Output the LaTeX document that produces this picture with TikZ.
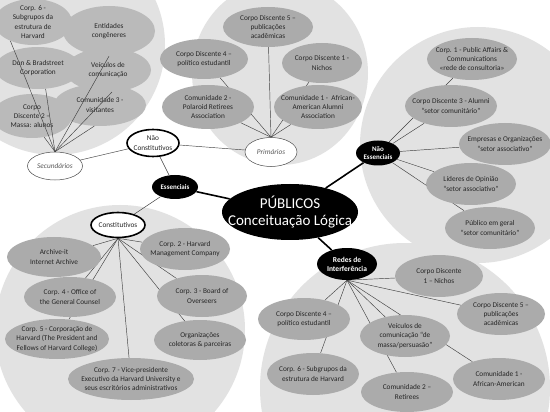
\documentclass[tikz,border=0pt]{standalone}
\usepackage{fontspec}
\setmainfont{Carlito}
\usetikzlibrary{shapes.geometric}
\pgfdeclarelayer{bglayer}
\pgfdeclarelayer{lines}
\pgfdeclarelayer{front}
\pgfsetlayers{bglayer,lines,main,front}
\definecolor{bgfill}{gray}{0.885}
\definecolor{nodegray}{gray}{0.67}
\definecolor{tlgray}{gray}{0.73}
\tikzset{
  txt/.style={align=center, inner sep=0pt, text=black!85, font=\fontsize{7.3}{9.3}\selectfont},
  wtxt/.style={align=center, inner sep=0pt, text=white, font=\fontsize{7}{8.6}\selectfont\bfseries},
  ptxt/.style={align=center, inner sep=0pt, text=white, font=\fontsize{15}{16.5}\selectfont},
  itxt/.style={align=center, inner sep=0pt, text=black!65, font=\fontsize{7.3}{9}\selectfont\itshape},
  gn/.style n args={3}{ellipse, fill=nodegray, inner sep=0pt, minimum width=#1pt, minimum height=#2pt, label={[txt]center:{#3}}},
  tl/.style n args={3}{ellipse, fill=tlgray, inner sep=0pt, minimum width=#1pt, minimum height=#2pt, label={[txt]center:{#3}}},
  bl/.style n args={3}{ellipse, fill=black, inner sep=0pt, minimum width=#1pt, minimum height=#2pt, label={[wtxt]center:{#3}}},
  wb/.style n args={3}{ellipse, fill=white, draw=black, line width=1.6pt, inner sep=0pt, minimum width=#1pt, minimum height=#2pt, label={[txt]center:{#3}}},
  wi/.style n args={3}{ellipse, fill=white, draw=black!70, line width=0.5pt, inner sep=0pt, minimum width=#1pt, minimum height=#2pt, label={[itxt]center:{#3}}},
  conn/.style={draw=black!75, line width=0.45pt},
  thickconn/.style={draw=black, line width=1.6pt},
}
\begin{document}
\begin{tikzpicture}[x=1pt,y=-1pt]
\useasboundingbox (0,0) rectangle (550,412);
\begin{pgfonlayer}{bglayer}
  \fill[white] (0,0) rectangle (550,412);
  \clip (0,0) rectangle (550,412);
  \fill[bgfill] (55,45) circle[radius=110pt];
  \fill[bgfill] (280,73) ellipse[x radius=88pt, y radius=92pt];
  \fill[bgfill] (478,145) circle[radius=118pt];
  \fill[bgfill] (120,330) circle[radius=125pt];
  \fill[bgfill] (405,388) circle[radius=145pt];
\end{pgfonlayer}

% central nodes
\node[ellipse, fill=black, inner sep=0pt, minimum width=136pt, minimum height=56pt,
      label={[ptxt]center:{PÚBLICOS\\Conceituação Lógica}}] (pub) at (290,212) {};
\node[bl={46}{24}{Essenciais}] (ess) at (175,187) {};
\node[bl={44}{25}{Não\\Essenciais}] (nes) at (378,153) {};
\node[ellipse, fill=black, inner sep=0pt, minimum width=60pt, minimum height=32pt,
      label={[wtxt, font=\fontsize{7.5}{9.2}\selectfont\bfseries]center:{Redes de\\Interferência}}] (red) at (347,264) {};
\node[wb={54}{25}{Constitutivos}] (con) at (118,225) {};
\node[wb={52}{27}{Não\\Constitutivos}] (ncon) at (153,143) {};
\node[wi={52}{29}{Primários}] (prim) at (271,152) {};
\node[wi={55}{28}{Secundários}] (sec) at (55,166) {};

% top-left group (Secundários)
\node[tl={78}{46}{Corp. 6 -\\Subgrupos da\\estrutura de\\Harvard}] (tc6) at (33,22) {};
\node[tl={92}{50}{Entidades\\congêneres}] (tent) at (109,31) {};
\node[tl={86}{42}{Dun \& Bradstreet\\Corporation}] (tdun) at (38,68) {};
\node[tl={86}{44}{Veículos de\\comunicação}] (tvei) at (108,70) {};
\node[tl={92}{42}{Comunidade 3 -\\visitantes}] (tcom3) at (100,105) {};
\node[tl={80}{44}{Corpo\\Discente 2 –\\Massa: alunos}] (tcd2) at (32,116) {};

% top-middle group (Primários)
\node[gn={90}{40}{Corpo Discente 5 –\\publicações\\acadêmicas}] (pcd5) at (268,27) {};
\node[gn={88}{40}{Corpo Discente 4 –\\político estudantil}] (pcd4) at (204,59) {};
\node[gn={80}{40}{Corpo Discente 1 -\\Nichos}] (pcd1) at (322,63) {};
\node[gn={92}{44}{Comunidade 2 -\\Polaroid Retirees\\Association}] (pcom2) at (208,107) {};
\node[gn={88}{44}{Comunidade 1 -\ \ African-\\American Alumni\\Association}] (pcom1) at (318,107) {};

% right group (Não Essenciais)
\node[gn={90}{42}{Corp. 1 - Public Affairs \&\\Communications\\«rede de consultoria»}] (nc1) at (472,59) {};
\node[gn={92}{42}{Corpo Discente 3 - Alumni\\“setor comunitário”}] (ncd3) at (451,106) {};
\node[gn={92}{42}{Empresas e Organizações\\“setor associativo”}] (nemp) at (505,144) {};
\node[gn={90}{42}{Líderes de Opinião\\“setor associativo”}] (nlid) at (471,184) {};
\node[gn={90}{42}{Público em geral\\“setor comunitário”}] (npub) at (490,228) {};

% bottom-left group (Constitutivos)
\node[gn={94}{40}{Archive-it\\Internet Archive}] (carch) at (54,257) {};
\node[gn={92}{40}{Corp. 4 - Office of\\the General Counsel}] (cc4) at (70,297) {};
\node[gn={104}{40}{Corp. 5 - Corporação de\\Harvard (The President and\\Fellows of Harvard College)}] (cc5) at (57,339) {};
\node[gn={126}{42}{Corp. 7 - Vice-presidente\\Executivo da Harvard University e\\seus escritórios administrativos}] (cc7) at (131,379) {};
\node[gn={90}{42}{Corp. 2 - Harvard\\Management Company}] (cc2) at (185,249) {};
\node[gn={90}{42}{Corp. 3 - Board of\\Overseers}] (cc3) at (202,296) {};
\node[gn={92}{40}{Organizações\\coletoras \& parceiras}] (corg) at (200,340) {};

% bottom-right group (Redes de Interferência)
\node[gn={88}{42}{Corpo Discente\\1 – Nichos}] (rcd1) at (439,276) {};
\node[gn={92}{42}{Corpo Discente 4 –\\político estudantil}] (rcd4) at (304,319) {};
\node[gn={90}{42}{Veículos de\\comunicação “de\\massa/persuasão”}] (rvei) at (405,336) {};
\node[gn={88}{42}{Corpo Discente 5 –\\publicações\\acadêmicas}] (rcd5) at (501,314) {};
\node[gn={92}{42}{Corp. 6 - Subgrupos da\\estrutura de Harvard}] (rc6) at (313,374) {};
\node[gn={92}{40}{Comunidade 2 –\\Retirees}] (rcom2) at (407,392) {};
\node[gn={92}{42}{Comunidade 1 -\\African-American}] (rcom1) at (499,379) {};

\begin{pgfonlayer}{lines}
  \draw[thickconn] (ess) -- (pub);
  \draw[thickconn] (nes) -- (pub);
  \draw[thickconn] (red) -- (pub);
  \draw[conn] (ess) -- (ncon);
  \draw[conn] (ess) -- (con);
  \draw[conn] (sec) -- (ncon);
  \draw[conn] (ncon) -- (prim);
  \coordinate (phub) at (prim.north);
  \foreach \t in {pcd5,pcd4,pcd1,pcom2,pcom1} \draw[conn] (phub) -- (\t);
  \foreach \t in {nc1,ncd3,nemp,nlid,npub} \draw[conn] (nes) -- (\t);
  \coordinate (chub) at (con.south);
  \foreach \t in {carch,cc4,cc5,cc7,cc2,cc3,corg} \draw[conn] (chub) -- (\t);
  \coordinate (rhub) at (red.south);
  \foreach \t in {rcd1,rcd4,rvei,rcd5,rc6,rcom2,rcom1} \draw[conn] (rhub) -- (\t);
\end{pgfonlayer}
\begin{pgfonlayer}{front}
  \coordinate (shub) at (sec.north);
  \draw[conn] (shub) -- (tc6.220);
  \draw[conn] (shub) -- (tdun.290);
  \draw[conn] (shub) -- (tcd2.300);
  \draw[conn] (shub) -- (tent.270);
  \draw[conn] (shub) -- (tvei.280);
  \draw[conn] (shub) -- (tcom3.255);
\end{pgfonlayer}
\end{tikzpicture}
\end{document}
